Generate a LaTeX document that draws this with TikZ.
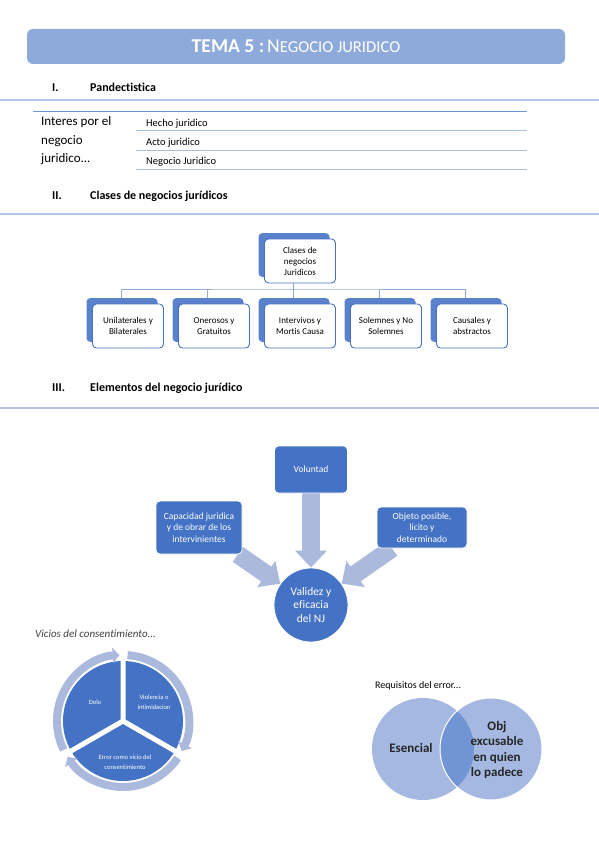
\documentclass[tikz,border=0pt]{standalone}
\usepackage{fontspec}
\setmainfont{Carlito}[Ligatures=NoCommon]
\usetikzlibrary{positioning,arrows.meta,shadows,backgrounds,calc}

\definecolor{bannerblue}{HTML}{8EAADB}
\definecolor{ruleblue}{HTML}{B4C6E7}
\definecolor{rowblue}{HTML}{A9BCE2}
\definecolor{topblue}{HTML}{6F94D6}
\definecolor{accent}{HTML}{4472C4}
\definecolor{shadowblue}{HTML}{5A82CC}
\definecolor{paleblue}{HTML}{ABB9DC}
\definecolor{vennblue}{HTML}{A4B8E1}
\definecolor{vennmid}{HTML}{7195D4}
\definecolor{greytext}{HTML}{404040}

\newcommand{\fsz}[2]{\fontsize{#1}{#2}\selectfont}

\begin{document}
\begin{tikzpicture}[x=1pt,y=1pt,
    sect/.style={draw=ruleblue, line width=1.3pt},
    head/.style={anchor=base west, inner sep=0pt, font=\fsz{12}{14}\bfseries},
    row/.style={anchor=base west, inner sep=0pt, font=\fsz{10.5}{12}},
    orgbox/.style={draw=accent, line width=0.9pt, fill=white, rounded corners=4pt,
        minimum width=71pt, minimum height=44pt, align=center, inner sep=2pt,
        font=\fsz{9}{11},
        general shadow={fill=shadowblue, shadow xshift=-6pt, shadow yshift=6pt}},
    orgline/.style={draw=bannerblue, line width=1pt},
    elbox/.style={fill=accent, draw=white, line width=0.8pt, rounded corners=4pt,
        text=white, align=center, font=\fsz{9.5}{11.7}, inner sep=2pt},
    bigarrow/.style={draw=paleblue, line width=18pt, -{Triangle[width=31pt,length=17pt]}},
    ringarrow/.style={draw=paleblue, line width=8pt, -{Triangle[width=15pt,length=7pt]}},
    pietext/.style={text=white, align=center, font=\fsz{6.5}{10}},
    venntext/.style={align=center, font=\fsz{13}{15.5}\bfseries, text=black!85}
]
\useasboundingbox (0,0) rectangle (599,-848);

% banner
\node[fill=bannerblue, rounded corners=6pt, minimum width=538pt, minimum height=35pt,
    text=white] (tema) at (296,-46.5)
    {{\fsz{19.6}{22}\bfseries TEMA 5 :} {\fsz{19.6}{22}N}{\fsz{16.6}{22}EGOCIO JURIDICO}};

% I.
\node[head] (num1) at (52,-92) {I.};
\node[head] (pand) at (90,-92) {Pandectistica};
\draw[sect] (0,-100) -- (599,-100);

\draw[topblue, line width=1pt] (33,-112) -- (527,-112);
\node[anchor=west, align=left, inner sep=0pt, font=\fsz{13}{18.5}] (interes) at (41,-141)
    {Interes por el\\negocio\\juridico...};
\node[row] (hecho) at (146,-126.5) {Hecho juridico};
\draw[rowblue, line width=1pt] (136,-131) -- (527,-131);
\node[row] (acto) at (146,-145.5) {Acto juridico};
\draw[rowblue, line width=1pt] (136,-150) -- (527,-150);
\node[row] (negocio) at (146,-164.5) {Negocio Juridico};
\draw[rowblue, line width=1pt] (136,-169) -- (527,-169);

% II.
\node[head] (num2) at (52,-199) {II.};
\node[head] (clasesh) at (90,-199) {Clases de negocios jurídicos};
\draw[sect] (0,-214) -- (599,-214);

\node[orgbox] (clases) at (300,-261) {Clases de\\negocios\\Juridicos};
\node[orgbox] (unilat) at (128,-326) {Unilaterales y\\Bilaterales};
\node[orgbox] (oneroso) at (214,-326) {Onerosos y\\Gratuitos};
\node[orgbox] (intervivos) at (300,-326) {Intervivos y\\Mortis Causa};
\node[orgbox] (solemne) at (386,-326) {Solemnes y No\\Solemnes};
\node[orgbox] (causal) at (472,-326) {Causales y\\abstractos};
\coordinate (bus) at (300,-289);
\begin{pgfonlayer}{background}
\draw[orgline] ([xshift=-7pt]clases.south) -- ([xshift=-7pt]clases.south |- bus);
\draw[orgline] ([xshift=-7pt]unilat.north) |- (bus) -| ([xshift=-7pt]causal.north);
\draw[orgline] ([xshift=-7pt]oneroso.north) -- ([xshift=-7pt]oneroso.north |- bus);
\draw[orgline] ([xshift=-7pt]intervivos.north) -- ([xshift=-7pt]intervivos.north |- bus);
\draw[orgline] ([xshift=-7pt]solemne.north) -- ([xshift=-7pt]solemne.north |- bus);
\end{pgfonlayer}

% III.
\node[head] (num3) at (52,-391) {III.};
\node[head] (elemh) at (90,-391) {Elementos del negocio jurídico};
\draw[sect] (0,-408) -- (599,-408);

\node[elbox, minimum width=73pt, minimum height=47pt] (vol) at (311,-469.5) {Voluntad};
\node[elbox, minimum width=86pt, minimum height=53pt] (cap) at (199,-527.5)
    {Capacidad juridica\\y de obrar de los\\intervinientes};
\node[elbox, minimum width=90pt, minimum height=41pt] (obj) at (422,-527.5)
    {Objeto posible,\\licito y\\determinado};
\node[circle, fill=accent, draw=white, line width=0.8pt, minimum size=74pt, inner sep=0pt,
    text=white, align=center, font=\fsz{11.5}{13.7}] (nj) at (311,-605)
    {Validez y\\eficacia\\del NJ};
\begin{pgfonlayer}{background}
\draw[bigarrow] (vol) -- (nj);
\draw[bigarrow] (cap) -- (nj);
\draw[bigarrow] (obj) -- (nj);
\end{pgfonlayer}

% vicios
\node[anchor=west, inner sep=0pt, font=\fsz{11}{13}\itshape, text=greytext] (vicios) at (35,-634)
    {Vicios del consentimiento...};
\coordinate (pie) at (123,-721);
\fill[accent] (pie) circle[radius=60];
\draw[white, line width=5pt] (pie) -- ++(90:62) (pie) -- ++(210:62) (pie) -- ++(330:62);
\draw[ringarrow] ($(pie)+(206:66)$) arc[start angle=206, end angle=93, radius=66];
\draw[ringarrow] ($(pie)+(86:66)$) arc[start angle=86, end angle=-27, radius=66];
\draw[ringarrow] ($(pie)+(-34:66)$) arc[start angle=-34, end angle=-147, radius=66];
\node[pietext] (dolo) at (95,-702) {Dolo};
\node[pietext] (violencia) at (154,-702) {Violencia o\\intimidacion};
\node[pietext] (error) at (125,-762) {Error como vicio del\\consentimiento};

% requisitos
\node[anchor=west, inner sep=0pt, font=\fsz{10}{12}] (requisitos) at (375,-686)
    {Requisitos del error...};
\fill[vennblue] (423,-749) circle[radius=51];
\fill[vennblue] (491,-749) circle[radius=51];
\begin{scope}
\clip (423,-749) circle[radius=51];
\fill[vennmid] (491,-749) circle[radius=51];
\end{scope}
\draw[white, line width=1pt] (491,-749) circle[radius=51];
\node[venntext] (esencial) at (411,-748) {Esencial};
\node[venntext] (excusable) at (497,-750) {Obj\\excusable\\en quien\\lo padece};

\end{tikzpicture}
\end{document}
